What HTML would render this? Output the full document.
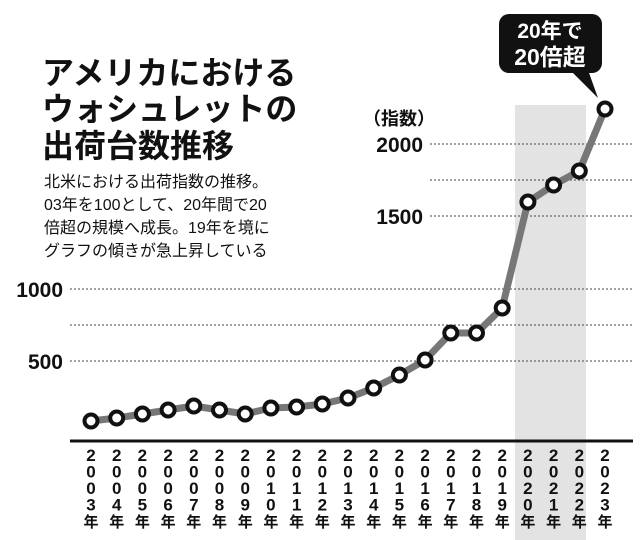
<!DOCTYPE html><html><head><meta charset="utf-8"><style>
body{margin:0;width:640px;height:540px;background:#fff;overflow:hidden;font-family:"Liberation Sans","Noto Sans CJK JP",sans-serif}
</style></head><body>
<svg width="640" height="540" xmlns="http://www.w3.org/2000/svg" style="position:absolute;left:0;top:0">
<rect x="515" y="105" width="71" height="435" fill="#e3e3e3"/>
<g stroke="#444" stroke-width="1" stroke-dasharray="2,2">
<line x1="70" y1="289" x2="633" y2="289"/>
<line x1="70" y1="325" x2="633" y2="325"/>
<line x1="70" y1="361" x2="633" y2="361"/>
<line x1="430" y1="144" x2="633" y2="144"/>
<line x1="430" y1="180" x2="633" y2="180"/>
<line x1="430" y1="216" x2="633" y2="216"/>
</g>
<line x1="70" y1="441" x2="633" y2="441" stroke="#111" stroke-width="3"/>
<g font-weight="bold" font-size="21" fill="#111" text-anchor="end">
<text x="63" y="297">1000</text><text x="63" y="369">500</text>
<text x="423" y="152">2000</text><text x="423" y="224">1500</text>
</g>
<text x="363" y="125" font-weight="bold" font-size="18" fill="#111">（指数）</text>
<polyline fill="none" stroke="#777" stroke-width="7" stroke-linejoin="round" points="91,421 116.7,418 142.4,414 168.1,410 193.8,406 219.5,410 245.2,414 270.9,408 296.6,407 322.3,404 348,398 373.7,388 399.4,375 425.1,360 450.8,333 476.5,333 502.2,308 527.9,202 553.6,185 579.3,171 605,109"/>
<g fill="#fff" stroke="#111" stroke-width="4">
<circle cx="91" cy="421" r="6.5"/><circle cx="116.7" cy="418" r="6.5"/><circle cx="142.4" cy="414" r="6.5"/><circle cx="168.1" cy="410" r="6.5"/><circle cx="193.8" cy="406" r="6.5"/><circle cx="219.5" cy="410" r="6.5"/><circle cx="245.2" cy="414" r="6.5"/><circle cx="270.9" cy="408" r="6.5"/><circle cx="296.6" cy="407" r="6.5"/><circle cx="322.3" cy="404" r="6.5"/><circle cx="348" cy="398" r="6.5"/><circle cx="373.7" cy="388" r="6.5"/><circle cx="399.4" cy="375" r="6.5"/><circle cx="425.1" cy="360" r="6.5"/><circle cx="450.8" cy="333" r="6.5"/><circle cx="476.5" cy="333" r="6.5"/><circle cx="502.2" cy="308" r="6.5"/><circle cx="527.9" cy="202" r="6.5"/><circle cx="553.6" cy="185" r="6.5"/><circle cx="579.3" cy="171" r="6.5"/><circle cx="605" cy="109" r="6.5"/>
</g>
<rect x="499" y="14" width="103" height="59" rx="10" fill="#111"/>
<polygon points="570,70 588,70 598,98" fill="#111"/>
<g fill="#fff" font-weight="bold" font-size="21" text-anchor="middle">
<text x="550" y="38">20年で</text><text x="550" y="65" font-size="23">20倍超</text>
</g>
<g font-weight="bold" font-size="32" fill="#111">
<text x="42" y="84">アメリカにおける</text>
<text x="42" y="120">ウォシュレットの</text>
<text x="42" y="157">出荷台数推移</text>
</g>
<g font-size="16" fill="#111">
<text x="44" y="187">北米における出荷指数の推移。</text>
<text x="44" y="210">03年を100として、20年間で20</text>
<text x="44" y="233">倍超の規模へ成長。19年を境に</text>
<text x="44" y="256">グラフの傾きが急上昇している</text>
</g>
<g font-weight="bold" font-size="17" fill="#111" text-anchor="middle" id="yrs"></g>
</svg>
<script>
var g=document.getElementById('yrs'),s='';
for(var i=0;i<21;i++){var y=String(2003+i),x=91+i*25.7;var ch=y.split('').concat(['年']);
for(var j=0;j<5;j++)s+='<text x="'+x+'" y="'+(461+j*16.5)+'"'+(j==4?' font-size="15"':'')+'>'+ch[j]+'</text>';}
g.innerHTML=s;
</script>
</body></html>
